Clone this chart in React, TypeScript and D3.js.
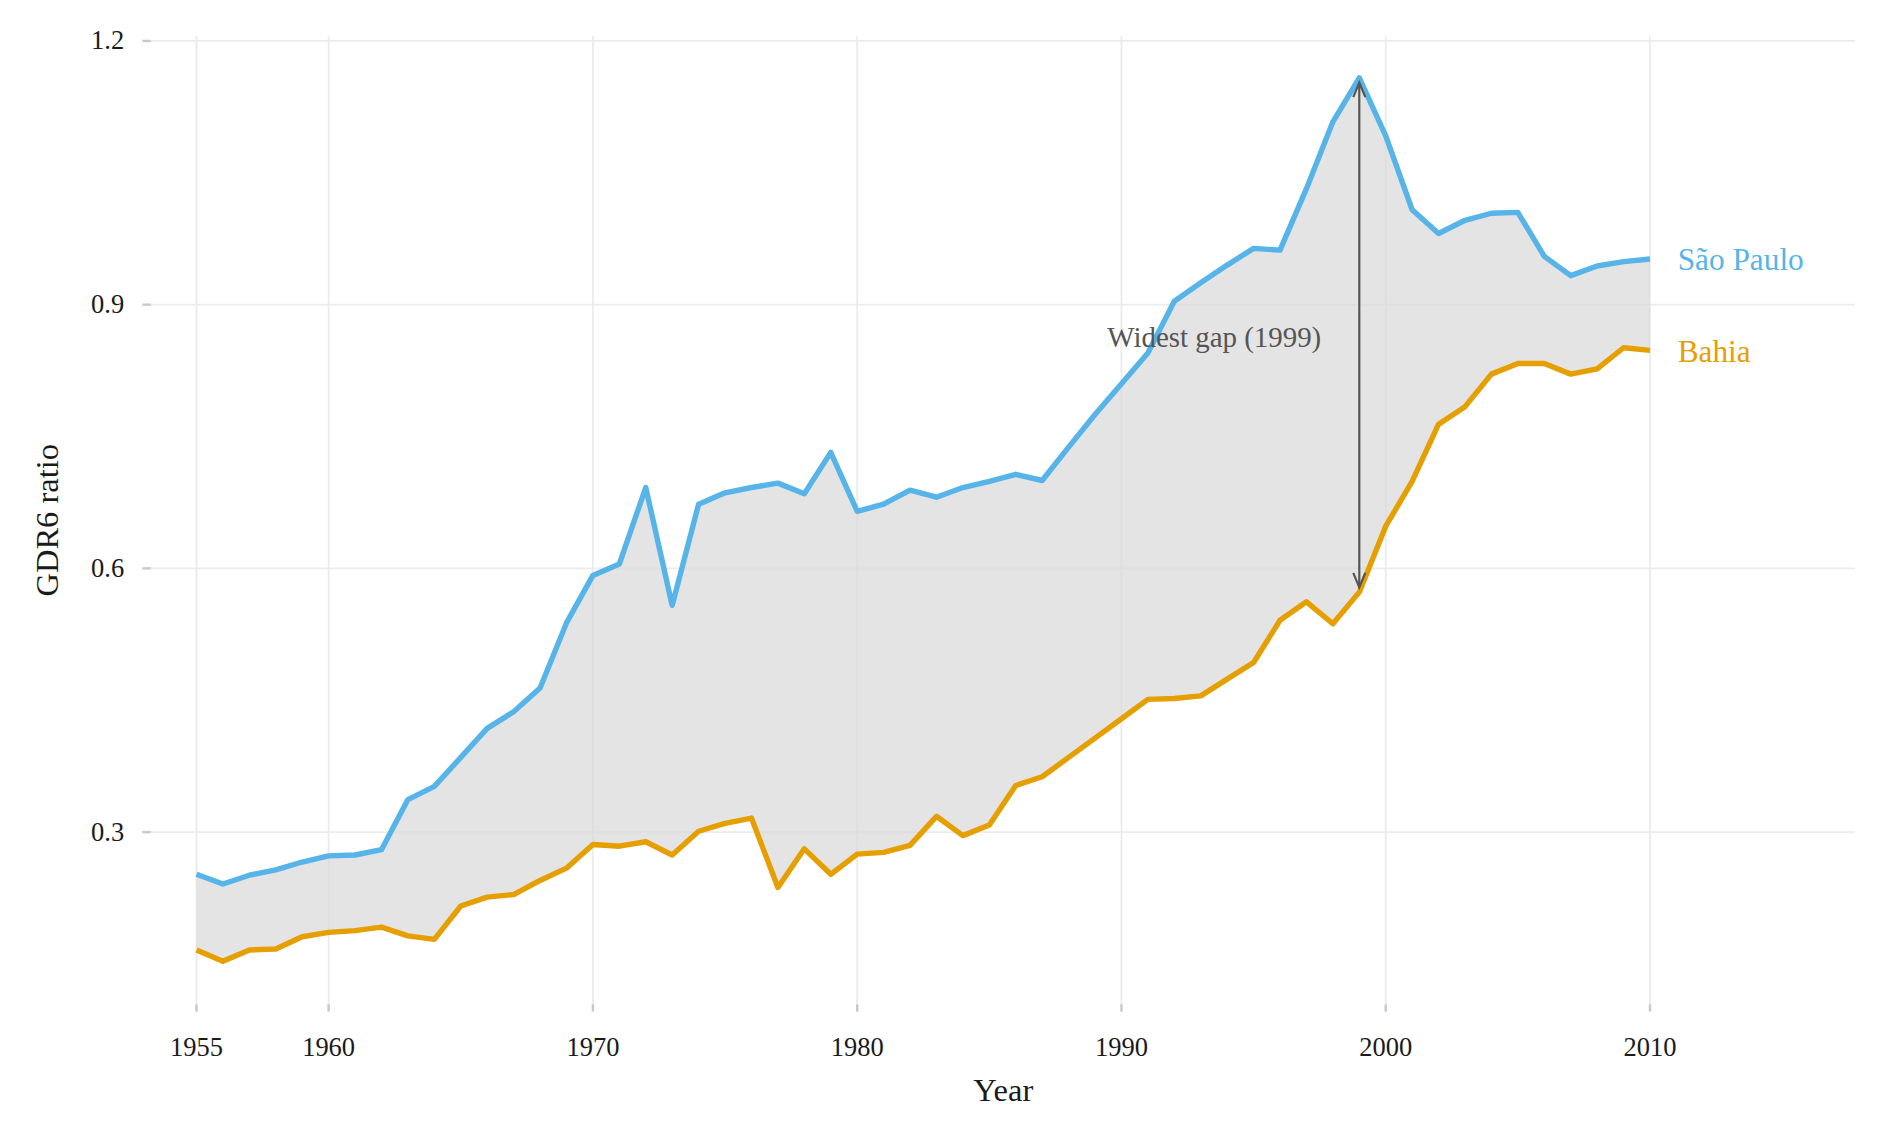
import * as React from 'react';
import * as d3 from 'd3';

const years = d3.range(1955, 2011);
const saoPaulo = [0.252, 0.241, 0.251, 0.257, 0.266, 0.273, 0.274, 0.28, 0.337, 0.352, 0.385, 0.418, 0.437, 0.464, 0.538, 0.592, 0.605, 0.692, 0.558, 0.673, 0.686, 0.692, 0.697, 0.685, 0.732, 0.665, 0.673, 0.689, 0.681, 0.692, 0.699, 0.707, 0.7, 0.738, 0.775, 0.81, 0.845, 0.904, 0.925, 0.945, 0.964, 0.962, 1.032, 1.108, 1.158, 1.092, 1.008, 0.981, 0.996, 1.004, 1.005, 0.955, 0.933, 0.944, 0.949, 0.952];
const bahia = [0.166, 0.153, 0.166, 0.167, 0.181, 0.186, 0.188, 0.192, 0.182, 0.178, 0.216, 0.226, 0.229, 0.245, 0.259, 0.286, 0.284, 0.289, 0.274, 0.301, 0.31, 0.316, 0.237, 0.281, 0.252, 0.275, 0.277, 0.285, 0.318, 0.296, 0.308, 0.353, 0.363, 0.385, 0.407, 0.429, 0.451, 0.452, 0.455, 0.474, 0.493, 0.541, 0.562, 0.537, 0.573, 0.648, 0.699, 0.764, 0.784, 0.821, 0.833, 0.833, 0.821, 0.827, 0.851, 0.848];
const xTicks = [1955, 1960, 1970, 1980, 1990, 2000, 2010];
const yTicks = [0.3, 0.6, 0.9, 1.2];
const gapYear = 1999;

const SP = '#56b4e9';
const BA = '#e69f00';
const font = '"Liberation Serif", "DejaVu Serif", serif';

export default function App() {
  const panel = { left: 125, right: 1540, top: 30, bottom: 840 };
  const x = d3.scaleLinear().domain([1955, 2010]).range([163, 1370]);
  const y = d3.scaleLinear().domain([0.3, 1.2]).range([691, 34]);
  const rows = years.map((yr, i) => ({ yr, sp: saoPaulo[i], ba: bahia[i] }));
  const area = d3.area<any>().x((d) => x(d.yr)).y0((d) => y(d.ba)).y1((d) => y(d.sp))(rows);
  const line = (key: string) => d3.line<any>().x((d) => x(d.yr)).y((d) => y(d[key]))(rows);
  const gi = years.indexOf(gapYear);
  const ax = x(gapYear);
  const ay1 = y(saoPaulo[gi]) + 10;
  const ay2 = y(bahia[gi]) - 10;

  return (
    <svg width={1879} height={1138} viewBox="0 0 1560 945" style={{ position: 'absolute', left: 0, top: 0, background: '#fff' }} fontFamily={font}>
      {xTicks.map((t) => (
        <g key={t}>
          <line x1={x(t)} x2={x(t)} y1={panel.top} y2={panel.bottom} stroke="#ebebeb" strokeWidth={1.5} />
          <line x1={x(t)} x2={x(t)} y1={panel.bottom - 6} y2={panel.bottom} stroke="#c8c8c8" strokeWidth={2} />
          <text x={x(t)} y={877} fontSize={22} textAnchor="middle" fill="#1a1a1a">{t}</text>
        </g>
      ))}
      {yTicks.map((t) => (
        <g key={t}>
          <line x1={panel.left} x2={panel.right} y1={y(t)} y2={y(t)} stroke="#ebebeb" strokeWidth={1.5} />
          <line x1={118} x2={125} y1={y(t)} y2={y(t)} stroke="#c8c8c8" strokeWidth={2} />
          <text x={103} y={y(t) + 7} fontSize={22} textAnchor="end" fill="#1a1a1a">{t.toFixed(1)}</text>
        </g>
      ))}
      <path d={area || ''} fill="#d9d9d9" opacity={0.7} />
      <path d={line('sp') || ''} fill="none" stroke={SP} strokeWidth={4.5} strokeLinejoin="round" />
      <path d={line('ba') || ''} fill="none" stroke={BA} strokeWidth={4.5} strokeLinejoin="round" />
      <line x1={ax} x2={ax} y1={ay1 - 6} y2={ay2 + 6} stroke="#555" strokeWidth={1.8} />
      <path d={`M${ax - 5},${ay1 + 6} L${ax},${ay1 - 6} L${ax + 5},${ay1 + 6}`} fill="none" stroke="#555" strokeWidth={1.8} />
      <path d={`M${ax - 5},${ay2 - 6} L${ax},${ay2 + 6} L${ax + 5},${ay2 - 6}`} fill="none" stroke="#555" strokeWidth={1.8} />
      <text x={1097} y={288} fontSize={24} textAnchor="end" fill="#555">Widest gap (1999)</text>
      <text x={1393} y={224} fontSize={26} fill={SP}>São Paulo</text>
      <text x={1393} y={301} fontSize={26} fill={BA}>Bahia</text>
      <text x={833} y={914} fontSize={27} textAnchor="middle" fill="#1a1a1a">Year</text>
      <text transform="translate(48,432) rotate(-90)" fontSize={27} textAnchor="middle" fill="#1a1a1a">GDR6 ratio</text>
    </svg>
  );
}
